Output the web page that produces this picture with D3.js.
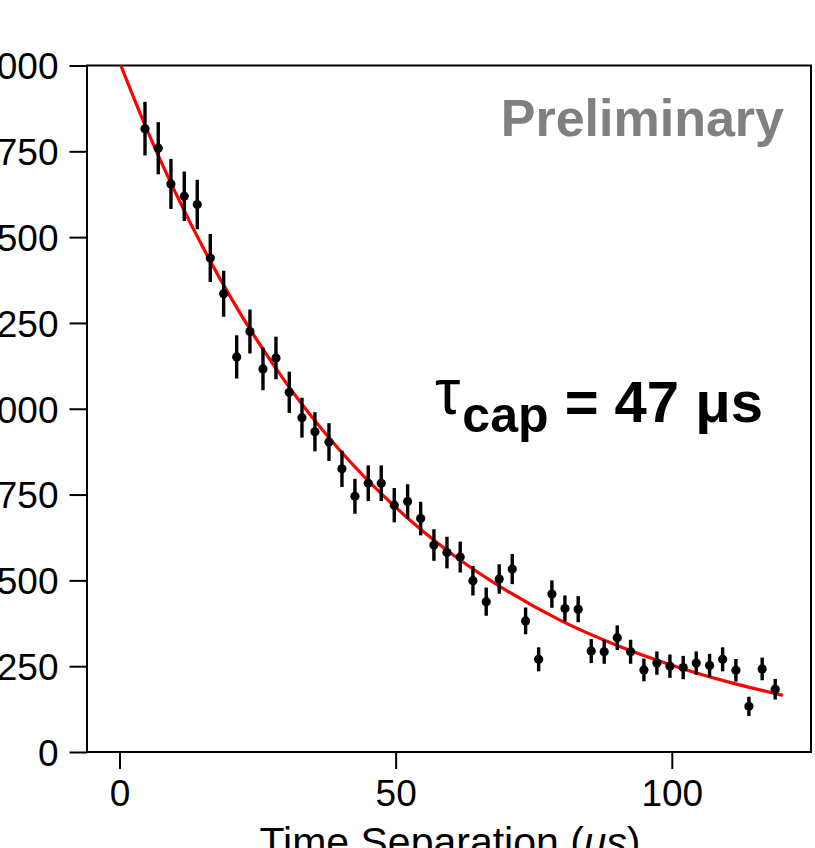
<!DOCTYPE html>
<html>
<head>
<meta charset="utf-8">
<script src="https://cdn.jsdelivr.net/npm/d3@7"></script>
<style>
  html, body { margin: 0; padding: 0; background: #fff; overflow: hidden; }
  svg { display: block; font-family: "Liberation Sans", Arial, sans-serif; }
</style>
</head>
<body>
<svg id="chart" width="815" height="848"></svg>
<script>
// measured points (time in us, counts, error)
const timeUs = [4.62, 7.02, 9.32, 11.73, 14.08, 16.44, 18.86, 21.22, 23.62, 25.98,
  28.33, 30.74, 33.04, 35.39, 37.93, 40.28, 42.63, 45.04, 47.39, 49.75,
  52.17, 54.53, 56.93, 59.29, 61.69, 63.99, 66.40, 68.75, 71.11, 73.53,
  75.89, 78.29, 80.65, 83.05, 85.41, 87.76, 90.12, 92.54, 94.95, 97.30,
  99.66, 102.06, 104.42, 106.84, 109.20, 111.60, 113.96, 116.36, 118.72];
const counts = [1816, 1759, 1655, 1619, 1595, 1439, 1335, 1151, 1225, 1116,
  1148, 1048, 974, 933, 903, 825, 745, 783, 783, 719,
  730, 680, 603, 581, 568, 499, 438, 504, 533, 382,
  270, 460, 418, 416, 294, 292, 333, 292, 239, 259,
  250, 246, 259, 252, 270, 238, 133, 242, 183];
const errors = [78, 76, 73, 72, 72, 70, 67, 63, 64, 62,
  62, 60, 58, 57, 55, 53, 51, 52, 52, 50,
  50, 49, 46, 46, 45, 43, 41, 43, 44, 39,
  35, 40, 38, 38, 35, 35, 36, 35, 33, 34,
  34, 34, 34, 34, 35, 33, 28, 33, 30];

// fit curve
const fitTime = [0, 5, 10, 20, 30, 40, 50, 60, 70, 80, 90, 100, 110, 120.1];
const fitCounts = [2010, 1812, 1634, 1328, 1079, 877, 713, 579, 471, 382, 311, 253, 205, 165];

const xTicks = [0, 50, 100];
const yTicks = [0, 250, 500, 750, 1000, 1250, 1500, 1750, 2000];

const plotLeft = 87, plotRight = 811, plotTop = 65.5, plotBottom = 752;

const svg = d3.select("#chart");

const x = d3.scaleLinear().domain([-5.88, 125.2]).range([plotLeft, plotRight]);
const y = d3.scaleLinear().domain([0, 2000]).range([plotBottom, plotTop]);

svg.append("defs").append("clipPath").attr("id", "plotclip")
  .append("rect")
  .attr("x", plotLeft).attr("y", plotTop)
  .attr("width", plotRight - plotLeft).attr("height", plotBottom - plotTop);

// frame
svg.append("rect")
  .attr("x", plotLeft).attr("y", plotTop)
  .attr("width", plotRight - plotLeft).attr("height", plotBottom - plotTop)
  .attr("fill", "none")
  .attr("stroke", "#000")
  .attr("stroke-width", 2);

// axes
const yAxis = svg.append("g")
  .attr("transform", `translate(${plotLeft},0)`)
  .call(d3.axisLeft(y).tickValues(yTicks).tickSize(17.5).tickPadding(11).tickFormat(d3.format("d")));
yAxis.select(".domain").remove();
yAxis.selectAll(".tick line").attr("stroke-width", 2);
yAxis.selectAll(".tick text")
  .attr("font-size", 37)
  .attr("font-family", "Liberation Sans, Arial, sans-serif")
  .attr("fill", "#000")
  .attr("dy", "0.36em");

const xAxis = svg.append("g")
  .attr("transform", `translate(0,${plotBottom})`)
  .call(d3.axisBottom(x).tickValues(xTicks).tickSize(17).tickPadding(11).tickFormat(d3.format("d")));
xAxis.select(".domain").remove();
xAxis.selectAll(".tick line").attr("stroke-width", 2);
xAxis.selectAll(".tick text")
  .attr("font-size", 37)
  .attr("font-family", "Liberation Sans, Arial, sans-serif")
  .attr("fill", "#000");

// x title
const xt = svg.append("text")
  .attr("x", 450)
  .attr("y", 856)
  .attr("text-anchor", "middle")
  .attr("font-size", 41)
  .attr("fill", "#000");
xt.append("tspan").text("Time Separation (");
xt.append("tspan").attr("font-style", "italic").text("μs");
xt.append("tspan").text(")");

// fit line
const fit = fitTime.map((t, i) => [t, fitCounts[i]]);
svg.append("path")
  .datum(fit)
  .attr("clip-path", "url(#plotclip)")
  .attr("fill", "none")
  .attr("stroke", "#ff0000")
  .attr("stroke-width", 3.2)
  .attr("d", d3.line().x(d => x(d[0])).y(d => y(d[1])).curve(d3.curveMonotoneX));

// data with error bars
const pts = timeUs.map((t, i) => ({ t, c: counts[i], e: errors[i] }));
const g = svg.append("g");
g.selectAll("line.err")
  .data(pts)
  .enter()
  .append("line")
  .attr("class", "err")
  .attr("x1", d => x(d.t)).attr("x2", d => x(d.t))
  .attr("y1", d => y(d.c - d.e)).attr("y2", d => y(d.c + d.e))
  .attr("stroke", "#000")
  .attr("stroke-width", 3.4);
g.selectAll("circle")
  .data(pts)
  .enter()
  .append("circle")
  .attr("cx", d => x(d.t))
  .attr("cy", d => y(d.c))
  .attr("r", 4.6)
  .attr("fill", "#000");

// annotations
svg.append("text")
  .attr("x", 784)
  .attr("y", 136)
  .attr("text-anchor", "end")
  .attr("font-size", 52)
  .attr("font-weight", "bold")
  .attr("fill", "#808080")
  .text("Preliminary");

const tau = svg.append("text")
  .attr("x", 763)
  .attr("y", 422)
  .attr("text-anchor", "end")
  .attr("font-size", 58)
  .attr("font-weight", "bold")
  .attr("fill", "#000");
tau.append("tspan").attr("font-weight", "normal").attr("font-size", 64).attr("dy", -8).text("τ");
tau.append("tspan").attr("font-size", 50).attr("dx", 2).attr("dy", 18).text("cap");
tau.append("tspan").attr("dy", -10).text(" = 47 μs");
</script>
</body>
</html>
